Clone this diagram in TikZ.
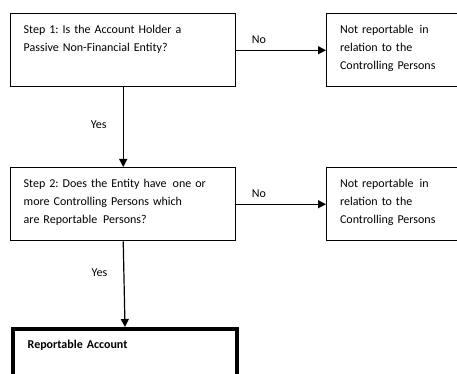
\documentclass[tikz,border=0pt]{standalone}
\usepackage{fontspec}
\setmainfont{Carlito}
\usetikzlibrary{arrows.meta}
\frenchspacing
\begin{document}
\begin{tikzpicture}[x=1pt, y=-1pt,
        stepbox/.style={draw, line width=1.1pt, anchor=north west, align=left,
            inner xsep=9.75pt, inner ysep=3pt, text height=12pt, text depth=36.75pt},
        flow/.style={line width=0.9pt, -{Triangle[length=6pt, width=6pt]}},
        lbl/.style={font=\fontsize{9}{13.5}\selectfont}]
    \useasboundingbox (0,0) rectangle (342.75,280.5);
    \clip (0,0) rectangle (342.75,280.5);
    \begin{scope}[font=\fontsize{9}{13.5}\selectfont]
        \node[stepbox, text width=149.25pt] (step1) at (7.5,9.75)
            {Step 1: Is the Account Holder a\\Passive Non-Financial Entity?};
        \node[stepbox, text width=140pt, minimum width=160pt] (notrep1) at (244.5,9.75)
            {Not reportable\, in\\relation to the\\Controlling Persons};
        \node[stepbox, text width=149.25pt] (step2) at (7.5,125.25)
            {Step 2: Does the Entity have\, one or\\more Controlling Persons which\\are Reportable\, Persons?};
        \node[stepbox, text width=140pt, minimum width=160pt] (notrep2) at (244.5,125.25)
            {Not reportable\, in\\relation to the\\Controlling Persons};
        \node[stepbox, line width=3pt, inner xsep=11pt, inner ysep=4pt, text height=10.5pt,
            text depth=60pt, text width=146pt, font=\fontsize{9}{13.5}\selectfont\bfseries]
            (account) at (8.25,245.25) {Reportable Account};
    \end{scope}
    \draw[flow] (step1.east) -- node[lbl, above, pos=0.25, inner sep=4.5pt] {No} (step1.east -| notrep1.west);
    \draw[flow] (step2.east) -- node[lbl, above, pos=0.25, inner sep=4.5pt] {No} (step2.east -| notrep2.west);
    \draw[flow] (step1.south) -- node[lbl, left, pos=0.47, inner sep=12pt] {Yes} (step2.north);
    \draw[flow] (step2.south) -- node[lbl, left, pos=0.36, inner sep=12pt] {Yes} (account.north);
\end{tikzpicture}
\end{document}
